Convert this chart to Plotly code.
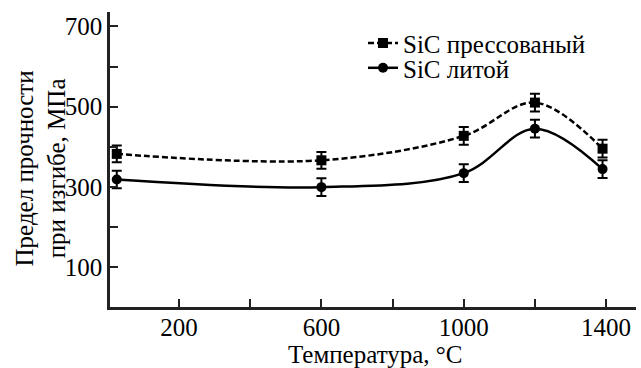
import plotly.graph_objects as go

temps = [25, 600, 1000, 1200, 1390]
pressed = [382, 366, 427, 510, 395]
pressed_err = [21, 21, 22, 22, 22]
cast = [318, 299, 334, 445, 344]
cast_err = [22, 22, 22, 22, 22]

x_tickvals = [200, 400, 600, 800, 1000, 1200, 1400]
x_ticktext = ["200", "", "600", "", "1000", "", "1400"]
y_tickvals = [100, 200, 300, 400, 500, 600, 700]
y_ticktext = ["100", "", "300", "", "500", "", "700"]

FONT = "Liberation Serif, Times New Roman, Tinos, DejaVu Serif, serif"

fig = go.Figure()
fig.add_trace(go.Scatter(
    x=temps, y=pressed, name="SiC прессованый", mode="lines+markers",
    line=dict(color="black", width=2.5, dash="6px,3px", shape="spline", smoothing=1),
    marker=dict(symbol="square", size=10, color="black"),
    error_y=dict(type="data", array=pressed_err, color="black", thickness=2, width=5),
    legend="legend",
))
fig.add_trace(go.Scatter(
    x=temps, y=cast, name="SiC литой", mode="lines+markers",
    line=dict(color="black", width=2.5, shape="spline", smoothing=1),
    marker=dict(symbol="circle", size=10, color="black"),
    error_y=dict(type="data", array=cast_err, color="black", thickness=2, width=5),
    legend="legend2",
))

leg_common = dict(xanchor="left", yanchor="top", bgcolor="rgba(0,0,0,0)",
                  font=dict(family=FONT, size=25), itemwidth=30)

fig.update_layout(
    width=641, height=368,
    margin=dict(l=110, r=5, t=12, b=61, autoexpand=False),
    paper_bgcolor="white", plot_bgcolor="white",
    font=dict(family=FONT, size=25, color="black"),
    showlegend=True,
    legend=dict(x=0.481, y=0.972, **leg_common),
    legend2=dict(x=0.481, y=0.888, **leg_common),
    xaxis=dict(range=[6, 1484], tickvals=x_tickvals, ticktext=x_ticktext,
               ticks="inside", ticklen=8, tickwidth=2, tickcolor="#222",
               showline=True, linecolor="#222", linewidth=2.5,
               showgrid=False, zeroline=False, automargin=False,
               ticklabelstandoff=-4,
               tickfont=dict(family=FONT, size=25)),
    yaxis=dict(range=[0, 736], tickvals=y_tickvals, ticktext=y_ticktext,
               ticks="inside", ticklen=8, tickwidth=2, tickcolor="#222",
               showline=True, linecolor="#222", linewidth=2.5,
               showgrid=False, zeroline=False, automargin=False,
               tickfont=dict(family=FONT, size=25)),
    annotations=[
        dict(text="Предел прочности<br>при изгибе, МПа", textangle=-90,
             xref="paper", yref="paper", x=-0.131, y=0.47,
             xanchor="center", yanchor="middle", showarrow=False,
             font=dict(family=FONT, size=25), align="center"),
        dict(text="Температура, °C",
             xref="paper", yref="paper", x=0.505, y=-0.16,
             xanchor="center", yanchor="middle", showarrow=False,
             font=dict(family=FONT, size=25)),
    ],
)

fig.write_html("out.html", config={"displayModeBar": False},
               post_script="document.body.style.margin='0';document.body.style.padding='0';")
